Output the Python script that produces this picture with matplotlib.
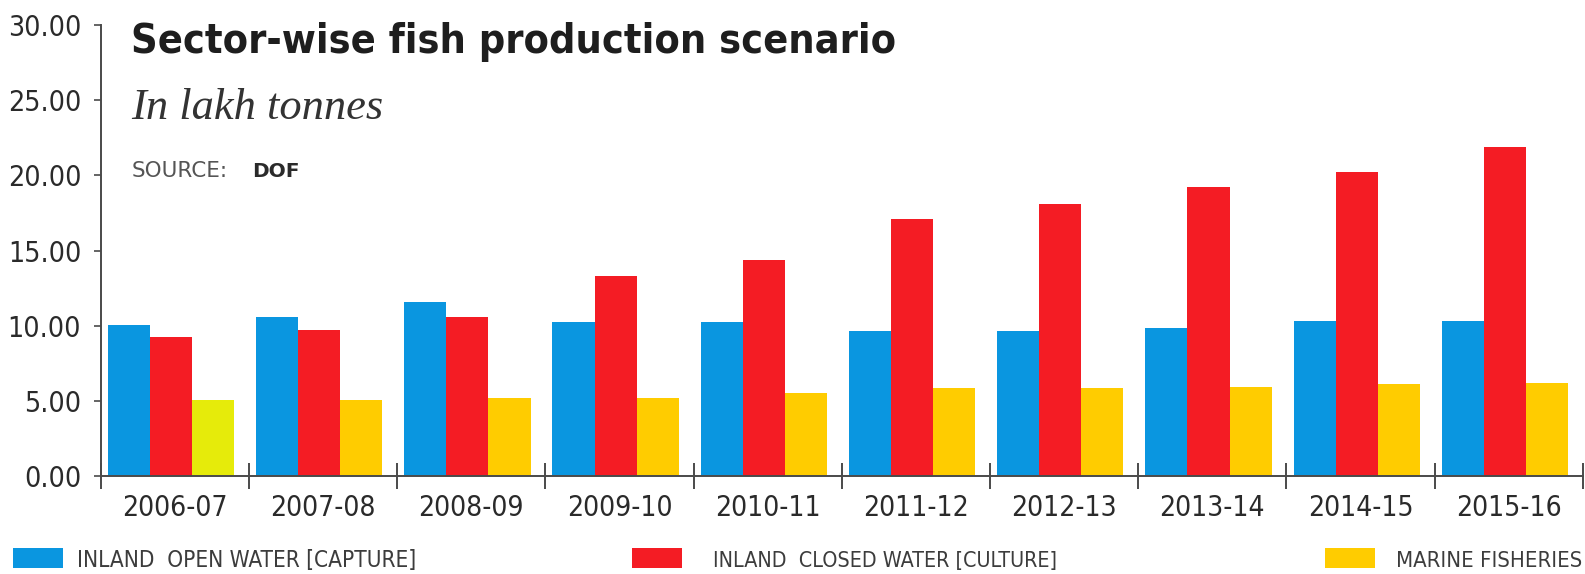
import os
import numpy as np
import matplotlib
matplotlib.use('Agg')
import matplotlib.pyplot as plt
from matplotlib import font_manager
from matplotlib.font_manager import FontProperties
from matplotlib.patches import Rectangle

years = ['2006-07', '2007-08', '2008-09', '2009-10', '2010-11',
         '2011-12', '2012-13', '2013-14', '2014-15', '2015-16']
open_water = [10.07, 10.55, 11.55, 10.22, 10.22, 9.67, 9.67, 9.84, 10.33, 10.33]
closed_water = [9.22, 9.71, 10.60, 13.30, 14.40, 17.11, 18.11, 19.22, 20.22, 21.87]
marine = [5.07, 5.04, 5.22, 5.22, 5.53, 5.84, 5.88, 5.95, 6.11, 6.22]
series_names = ['INLAND  OPEN WATER [CAPTURE]', 'INLAND  CLOSED WATER [CULTURE]',
                'MARINE FISHERIES']

BLUE = '#0a96e0'
RED = '#f41c24'
YELLOW = '#ffcc00'
LIME = '#e6eb0a'
TEXT = '#2a2a2a'
AXIS = '#4a4a4a'

W, H = 1585, 574


def _weight(f):
    if isinstance(f.weight, int):
        return f.weight
    return font_manager.weight_dict.get(f.weight, 400)


def narrow_font(bold=False):
    '''Pick a condensed sans face if one is installed, else plain DejaVu Sans.'''
    want = 700 if bold else 400
    best, best_score = None, None
    for f in font_manager.fontManager.ttflist:
        tag = (f.name + os.path.basename(f.fname)).lower().replace(' ', '')
        if f.style != 'normal':
            continue
        narrow = (f.stretch in ('condensed', 'semi-condensed')
                  or 'condensed' in tag or 'narrow' in tag)
        if not narrow or 'extracondensed' in tag or 'ultracondensed' in tag:
            continue
        score = abs(_weight(f) - want)
        if 'semicondensed' in tag or f.stretch == 'semi-condensed':
            score += 50
        if best_score is None or score < best_score:
            best, best_score = f, score
    if best is None:
        return FontProperties(family='DejaVu Sans',
                              weight='bold' if bold else 'normal')
    return FontProperties(fname=best.fname)


def fit(texts, renderer, target_px, max_size):
    '''Resize a group of texts so the first one is about target_px wide.'''
    t0 = texts[0]
    width = t0.get_window_extent(renderer).width
    size = min(max_size, t0.get_fontsize() * target_px / width)
    for t in texts:
        t.set_fontsize(size)


def main():
    regular = narrow_font()
    bold = narrow_font(bold=True)

    fig = plt.figure(figsize=(W / 100, H / 100), dpi=100)
    ax = fig.add_axes([0.0635, 0.1707, 0.9352, 0.7857])

    x = np.arange(len(years))
    w = 0.284
    shift = -0.026
    marine_colors = [LIME] + [YELLOW] * (len(years) - 1)
    ax.bar(x - w + shift, open_water, w, color=BLUE, linewidth=0)
    ax.bar(x + shift, closed_water, w, color=RED, linewidth=0)
    ax.bar(x + w + shift, marine, w, color=marine_colors, linewidth=0)

    ax.set_xlim(-0.5, len(years) - 0.5)
    ax.set_ylim(0, 30)
    for side in ['top', 'right']:
        ax.spines[side].set_visible(False)
    for side in ['left', 'bottom']:
        ax.spines[side].set_color(AXIS)
        ax.spines[side].set_linewidth(1.4)

    # year labels in the middle, separator ticks between the groups
    ax.set_xticks(x)
    ax.set_xticklabels(years)
    ax.set_xticks(np.arange(len(years) + 1) - 0.5, minor=True)
    ax.tick_params(axis='x', which='major', length=0, pad=13)
    ax.tick_params(axis='x', which='minor', direction='inout', length=19,
                   width=1.4, color=AXIS)

    ax.set_yticks(np.arange(0, 31, 5))
    ax.set_yticklabels(['{0:.2f}'.format(v) for v in np.arange(0, 31, 5)])
    ax.tick_params(axis='y', direction='out', length=5, width=1.2,
                   color=AXIS, pad=9)
    xlabels = ax.get_xticklabels()
    ylabels = ax.get_yticklabels()
    for lab in xlabels + ylabels:
        lab.set_fontproperties(regular)
        lab.set_fontsize(23)
        lab.set_color(TEXT)

    title = fig.text(131 / W, 1 - 53 / H, 'Sector-wise fish production scenario',
                     fontproperties=bold, fontsize=38, color='#1e1e1e',
                     va='baseline')
    fig.text(131 / W, 1 - 119 / H, 'In lakh tonnes',
             family='Liberation Serif', style='italic', fontsize=32,
             color='#333333', va='baseline')
    fig.text(132 / W, 1 - 177 / H, 'SOURCE:', family='DejaVu Sans',
             fontsize=15.5, color='#555555', va='baseline')
    fig.text(252 / W, 1 - 177 / H, 'DOF', family='DejaVu Sans',
             weight='bold', fontsize=14.5, color='#2a2a2a', va='baseline')

    # legend row along the bottom edge
    swatches = [(13, 77, 340, BLUE), (632, 713, 345, RED),
                (1325, 1396, 186, YELLOW)]
    legend_texts = []
    for (px, tx, tw, col), name in zip(swatches, series_names):
        fig.patches.append(Rectangle((px / W, 6 / H), 50 / W, 20 / H,
                                     transform=fig.transFigure, color=col,
                                     linewidth=0))
        t = fig.text(tx / W, 7 / H, name, fontproperties=regular,
                     fontsize=19, color='#3c3c3c', va='baseline')
        legend_texts.append((t, tw))

    fig.canvas.draw()
    renderer = fig.canvas.get_renderer()
    fit(xlabels, renderer, 106, 25)
    fit(ylabels[-1:], renderer, 73, 25)
    for lab in ylabels:
        lab.set_fontsize(ylabels[-1].get_fontsize())
    fit([title], renderer, 765, 40)
    for t, tw in legend_texts:
        fit([t], renderer, tw, 19)

    fig.savefig('out.png', dpi=100, facecolor='white')


if __name__ == '__main__':
    main()
